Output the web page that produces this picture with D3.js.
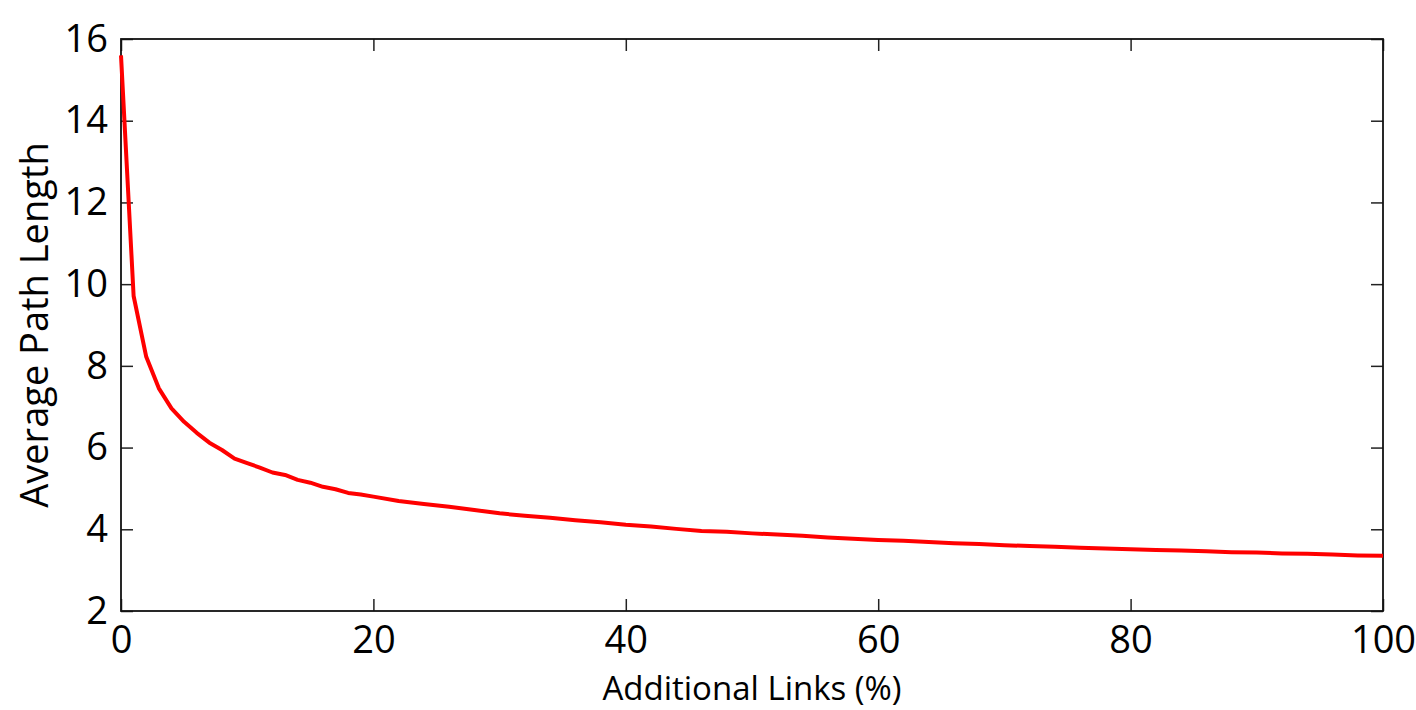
<!DOCTYPE html>
<html>
<head>
<meta charset="utf-8">
<script src="https://cdn.jsdelivr.net/npm/d3@7"></script>
<style>
  html, body { margin: 0; padding: 0; background: #fff; }
  svg { display: block; }
  text { font-family: "Open Sans", "Noto Sans", sans-serif; fill: #000; }
</style>
</head>
<body>
<svg id="chart" width="1416" height="710"></svg>
<script>
const xValues = [0,1,2,3,4,5,6,7,8,9,10,11,12,13,14,15,16,17,18,19,20,22,24,26,28,30,32,34,36,38,40,42,44,46,48,50,52,54,56,58,60,62,64,66,68,70,72,74,76,78,80,82,84,86,88,90,92,94,96,98,100];
const pathLength = [15.6,9.71,8.22,7.45,6.96,6.63,6.36,6.12,5.94,5.73,5.62,5.51,5.39,5.33,5.21,5.14,5.04,4.98,4.89,4.85,4.80,4.69,4.62,4.55,4.47,4.39,4.33,4.28,4.22,4.17,4.11,4.07,4.01,3.96,3.94,3.90,3.87,3.84,3.80,3.77,3.74,3.72,3.69,3.66,3.64,3.61,3.59,3.57,3.55,3.53,3.51,3.49,3.48,3.46,3.44,3.43,3.41,3.40,3.38,3.36,3.35];
const xTicks = [0,20,40,60,80,100];
const yTicks = [2,4,6,8,10,12,14,16];
const xLabel = "Additional Links (%)";
const yLabel = "Average Path Length";

const svg = d3.select("#chart");
const m = {left: 121, right: 1383, top: 39, bottom: 611};
const x = d3.scaleLinear().domain([0, 100]).range([m.left, m.right]);
const y = d3.scaleLinear().domain([2, 16]).range([m.bottom, m.top]);
const fs = 38;
const ff = '"Open Sans", "Noto Sans", sans-serif';

const g = svg.append("g");
const tl = 12;
g.append("g").attr("transform", `translate(0,${m.bottom})`)
  .call(d3.axisBottom(x).tickValues(xTicks).tickSizeInner(-tl).tickSizeOuter(0).tickPadding(15))
  .call(s => s.select(".domain").remove())
  .call(s => s.selectAll("line").attr("stroke", "#222").attr("stroke-width", 1.5))
  .call(s => s.selectAll("text").attr("font-size", fs).attr("font-family", ff).attr("fill", "#000"));
g.append("g").attr("transform", `translate(0,${m.top})`)
  .call(d3.axisTop(x).tickValues(xTicks).tickSizeInner(-tl).tickSizeOuter(0).tickFormat(""))
  .call(s => s.select(".domain").remove())
  .call(s => s.selectAll("line").attr("stroke", "#222").attr("stroke-width", 1.5));
g.append("g").attr("transform", `translate(${m.left},0)`)
  .call(d3.axisLeft(y).tickValues(yTicks).tickSizeInner(-tl).tickSizeOuter(0).tickPadding(13))
  .call(s => s.select(".domain").remove())
  .call(s => s.selectAll("line").attr("stroke", "#222").attr("stroke-width", 1.5))
  .call(s => s.selectAll("text").attr("font-size", fs).attr("font-family", ff).attr("fill", "#000"));
g.append("g").attr("transform", `translate(${m.right},0)`)
  .call(d3.axisRight(y).tickValues(yTicks).tickSizeInner(-tl).tickSizeOuter(0).tickFormat(""))
  .call(s => s.select(".domain").remove())
  .call(s => s.selectAll("line").attr("stroke", "#222").attr("stroke-width", 1.5));

svg.append("rect").attr("x", m.left).attr("y", m.top)
  .attr("width", m.right - m.left).attr("height", m.bottom - m.top)
  .attr("fill", "none").attr("stroke", "#111").attr("stroke-width", 1.8);

const data = xValues.map((v, i) => [v, pathLength[i]]);
svg.append("path").datum(data)
  .attr("fill", "none").attr("stroke", "#ff0000").attr("stroke-width", 4)
  .attr("stroke-linejoin", "round")
  .attr("d", d3.line().x(d => x(d[0])).y(d => y(d[1])));

svg.append("text").attr("x", (m.left + m.right) / 2).attr("y", 700)
  .attr("text-anchor", "middle").attr("font-size", 33).text(xLabel);
svg.append("text").attr("transform", `translate(48,${(m.top + m.bottom) / 2}) rotate(-90)`)
  .attr("text-anchor", "middle").attr("font-size", fs).text(yLabel);
</script>
</body>
</html>
